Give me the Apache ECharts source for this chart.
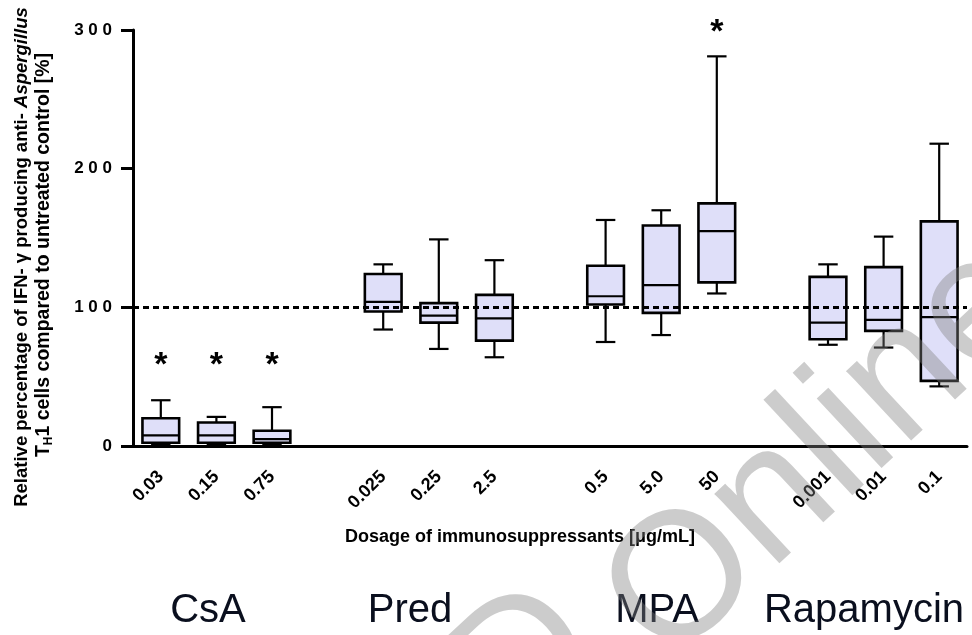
<!DOCTYPE html>
<html>
<head>
<meta charset="utf-8">
<script src="https://cdn.jsdelivr.net/npm/echarts@6/dist/echarts.min.js"></script>
<style>html,body{margin:0;padding:0;background:#fff}#c{width:972px;height:635px}</style>
</head>
<body>
<div id="c"></div>
<script>
// ---- data ----
const categories = ['0.03','0.15','0.75','','0.025','0.25','2.5','','0.5','5.0','50','','0.001','0.01','0.1'];
const whiskerLow  = [1,   1,   1,   null, 84,  70,  64,  null, 75,  80,  110, null, 73,  71,  43];
const q1          = [2.3, 2.3, 2.3, null, 97,  89,  76,  null, 102, 96,  118, null, 77,  83,  47];
const median      = [7.6, 7.6, 4.9, null, 104, 94,  92,  null, 108, 116, 155, null, 89,  91,  93];
const q3          = [20,  17,  11,  null, 124, 103, 109, null, 130, 159, 175, null, 122, 129, 162];
const whiskerHigh = [33,  21,  28,  null, 131, 149, 134, null, 163, 170, 281, null, 131, 151, 218];
const significance = ['*','*','*','','','','','','','','*','','','',''];
const starLevel    = [58, 58, 58, null, null, null, null, null, null, null, 298, null, null, null, null];
const yTicks = [0, 100, 200, 300];
const referenceLevel = 100;
const groups = ['CsA', 'Pred', 'MPA', 'Rapamycin'];

const boxData = [];
categories.forEach((c, i) => {
  if (c !== '') boxData.push([i, whiskerLow[i], q1[i], median[i], q3[i], whiskerHigh[i]]);
});
const starData = [];
significance.forEach((s, i) => { if (s) starData.push([i, starLevel[i], s]); });

const chart = echarts.init(document.getElementById('c'), null, {renderer: 'canvas'});
const FONT = 'Liberation Sans, Arial, sans-serif';
const NARROW = 'Liberation Sans Narrow, Liberation Sans, Arial, sans-serif';

function renderBox(params, api) {
  const x = api.value(0);
  const lo = api.coord([x, api.value(1)]);
  const a = api.coord([x, api.value(2)]);
  const m = api.coord([x, api.value(3)]);
  const b = api.coord([x, api.value(4)]);
  const hi = api.coord([x, api.value(5)]);
  const band = api.size([1, 0])[0];
  const bw = band * 0.66, cw = band * 0.35;
  const cx = lo[0];
  const ls = {stroke: '#000', lineWidth: 2.2};
  return {
    type: 'group',
    children: [
      {type: 'line', shape: {x1: cx, y1: lo[1], x2: cx, y2: a[1]}, style: ls},
      {type: 'line', shape: {x1: cx, y1: b[1], x2: cx, y2: hi[1]}, style: ls},
      {type: 'line', shape: {x1: cx - cw / 2, y1: lo[1], x2: cx + cw / 2, y2: lo[1]}, style: ls},
      {type: 'line', shape: {x1: cx - cw / 2, y1: hi[1], x2: cx + cw / 2, y2: hi[1]}, style: ls},
      {type: 'rect', shape: {x: cx - bw / 2, y: b[1], width: bw, height: a[1] - b[1]},
        style: {fill: '#dfdff9', stroke: '#000', lineWidth: 2.6}},
      {type: 'line', shape: {x1: cx - bw / 2, y1: m[1], x2: cx + bw / 2, y2: m[1]}, style: ls}
    ]
  };
}

function renderStar(params, api) {
  const p = api.coord([api.value(0), api.value(1)]);
  return {type: 'text', x: p[0], y: p[1],
    style: {text: significance[api.value(0)], font: 'bold 34px ' + FONT, fill: '#000',
      align: 'center', verticalAlign: 'middle'}};
}

const wmStyle = {font: '180px ' + FONT, fill: 'rgba(128,128,128,0.4)', align: 'left', verticalAlign: 'middle'};

chart.setOption({
  animation: false,
  backgroundColor: '#fff',
  grid: {left: 133, right: 5, top: 30, bottom: 189},
  xAxis: {
    type: 'category', data: categories, boundaryGap: true,
    axisLine: {lineStyle: {color: '#000', width: 3}},
    axisTick: {alignWithLabel: true, length: 8, lineStyle: {color: '#000', width: 3},
      interval: (i, v) => v !== ''},
    axisLabel: {interval: (i, v) => v !== '', rotate: 45, margin: 28, color: '#000',
      fontFamily: FONT, fontWeight: 'bold', fontSize: 18}
  },
  yAxis: {
    type: 'value', min: 0, max: 300, interval: 100,
    axisLine: {show: true, lineStyle: {color: '#000', width: 3}},
    axisTick: {show: true, length: 12, lineStyle: {color: '#000', width: 3}},
    splitLine: {show: false},
    axisLabel: {margin: 21, color: '#000', fontFamily: FONT, fontWeight: 'bold', fontSize: 17,
      formatter: v => yTicks.includes(v) ? String(v).split('').join(' ') : ''}
  },
  series: [
    {type: 'custom', renderItem: renderBox, data: boxData, z: 3,
      encode: {x: 0, y: [1, 2, 3, 4, 5]},
      markLine: {silent: true, symbol: 'none', label: {show: false},
        lineStyle: {color: '#000', width: 3, type: [6, 4]},
        data: [{yAxis: referenceLevel}]}},
    {type: 'custom', renderItem: renderStar, data: starData, z: 4, clip: false,
      encode: {x: 0, y: 1}}
  ],
  graphic: [
    {type: 'text', x: 22, y: 257, rotation: Math.PI / 2,
      style: {text: '{b|Relative percentage of IFN- γ producing anti- }{i|Aspergillus}',
        align: 'center', verticalAlign: 'middle',
        rich: {b: {font: 'bold 18.5px ' + NARROW, fill: '#000'},
               i: {font: 'italic bold 18.5px ' + NARROW, fill: '#000'}}}},
    {type: 'text', x: 44, y: 255, rotation: Math.PI / 2,
      style: {text: '{b|T}{s|H}{b|1 cells compared to untreated control [%]}',
        align: 'center', verticalAlign: 'middle',
        rich: {b: {font: 'bold 19.5px ' + NARROW, fill: '#000', lineHeight: 22, verticalAlign: 'middle'},
               s: {font: 'bold 12px ' + NARROW, fill: '#000', lineHeight: 12, verticalAlign: 'bottom'}}}},
    {type: 'text', x: 520, y: 537,
      style: {text: 'Dosage of immunosuppressants [μg/mL]', font: 'bold 18px ' + NARROW, fill: '#000',
        align: 'center', verticalAlign: 'middle'}},
    {type: 'text', x: 208, y: 611, style: {text: groups[0], font: '40px ' + FONT, fill: '#0a0f1e', align: 'center', verticalAlign: 'middle'}},
    {type: 'text', x: 410, y: 611, style: {text: groups[1], font: '40px ' + FONT, fill: '#0a0f1e', align: 'center', verticalAlign: 'middle'}},
    {type: 'text', x: 657, y: 611, style: {text: groups[2], font: '40px ' + FONT, fill: '#0a0f1e', align: 'center', verticalAlign: 'middle'}},
    {type: 'text', x: 864, y: 611, style: {text: groups[3], font: '40px ' + FONT, fill: '#0a0f1e', align: 'center', verticalAlign: 'middle'}},
    {type: 'text', x: 479, y: 708, rotation: 43 * Math.PI / 180, z: 100,
      style: Object.assign({text: 'D'}, wmStyle)},
    {type: 'text', x: 634, y: 631, rotation: 43 * Math.PI / 180, z: 100,
      style: Object.assign({text: 'Online'}, wmStyle)}
  ]
});
</script>
</body>
</html>
